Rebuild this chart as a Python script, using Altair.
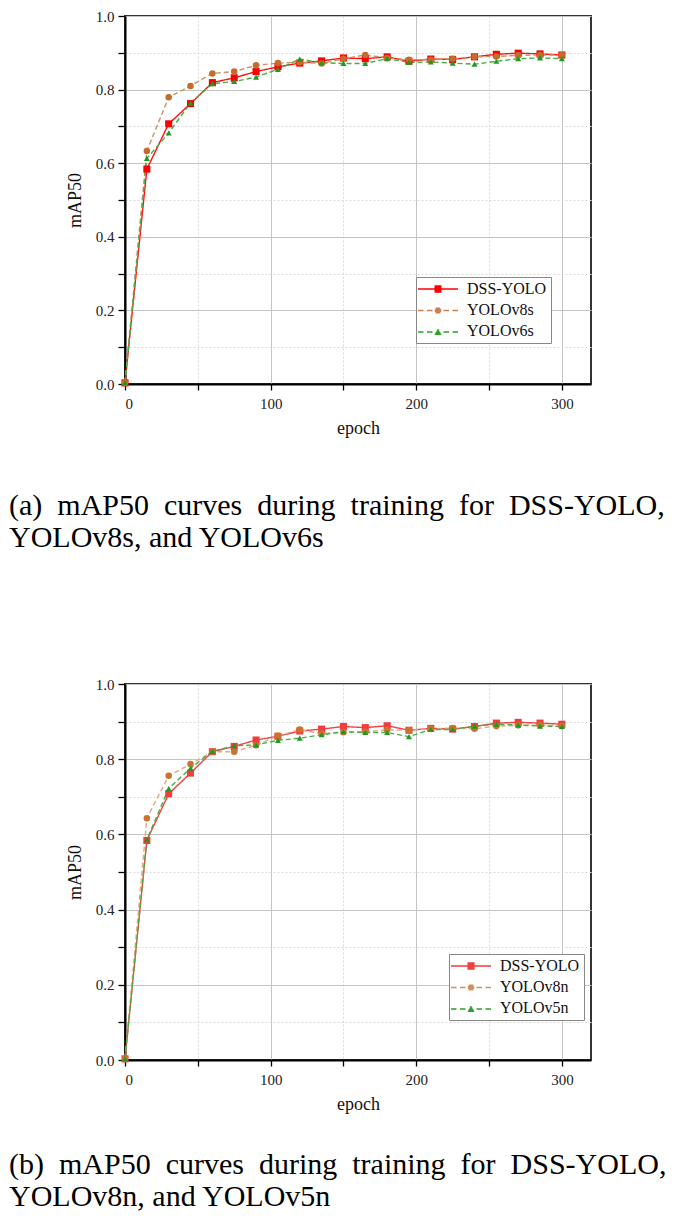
import altair as alt
import pandas as pd

# ---------------- data ----------------
epochs = [0, 15, 30, 45, 60, 75, 90, 105, 120, 135, 150, 165, 180, 195, 210, 225, 240, 255, 270, 285, 300]

series_a = ["DSS-YOLO", "YOLOv8s", "YOLOv6s"]
dss_a = [0.003, 0.584, 0.707, 0.762, 0.819, 0.832, 0.849, 0.862, 0.872, 0.878, 0.886,
         0.884, 0.889, 0.877, 0.883, 0.882, 0.889, 0.896, 0.899, 0.897, 0.894]
yolov8s = [0.003, 0.633, 0.779, 0.810, 0.844, 0.849, 0.866, 0.872, 0.874, 0.871, 0.884,
           0.894, 0.886, 0.881, 0.881, 0.884, 0.889, 0.890, 0.893, 0.894, 0.894]
yolov6s = [0.003, 0.613, 0.682, 0.764, 0.816, 0.822, 0.834, 0.855, 0.883, 0.873, 0.871,
           0.871, 0.884, 0.874, 0.875, 0.872, 0.869, 0.877, 0.884, 0.886, 0.884]

series_b = ["DSS-YOLO", "YOLOv8n", "YOLOv5n"]
dss_b = [0.003, 0.584, 0.708, 0.763, 0.820, 0.834, 0.851, 0.861, 0.875, 0.880, 0.887,
         0.884, 0.889, 0.877, 0.882, 0.880, 0.887, 0.896, 0.898, 0.896, 0.893]
yolov8n = [0.003, 0.643, 0.756, 0.787, 0.820, 0.820, 0.837, 0.862, 0.879, 0.868, 0.872,
           0.873, 0.878, 0.877, 0.881, 0.883, 0.881, 0.888, 0.890, 0.891, 0.888]
yolov5n = [0.003, 0.586, 0.722, 0.776, 0.821, 0.836, 0.838, 0.850, 0.856, 0.865, 0.873,
           0.871, 0.871, 0.860, 0.879, 0.879, 0.888, 0.893, 0.891, 0.888, 0.887]

x_ticks = [0, 50, 100, 150, 200, 250, 300]
y_ticks = [0.0, 0.1, 0.2, 0.3, 0.4, 0.5, 0.6, 0.7, 0.8, 0.9, 1.0]

NB = " \u00a0"  # widened word gap, imitating the justified first caption line
caption_a = [NB.join(["(a)", "mAP50", "curves", "during", "training", "for", "DSS-YOLO,"]),
             "YOLOv8s, and YOLOv6s"]
caption_b = [NB.join(["(b)", "mAP50", "curves", "during", "training", "for", "DSS-YOLO,"]),
             "YOLOv8n, and YOLOv5n"]

# ---------------- styles ----------------
FONT = "Liberation Serif"
line_colors_a = ["#ff1010", "#d09060", "#44b044"]
marker_colors_a = ["#ff0000", "#c46c2c", "#1f991f"]
line_colors_b = ["#f44040", "#deaa80", "#44b044"]
marker_colors_b = ["#f43c3c", "#c8742e", "#1f991f"]
legend_colors_a = ["#ff0000", "#c88050", "#2ca02c"]
legend_colors_b = ["#f43c3c", "#d09060", "#2ca02c"]
dashes = [[1, 0], [5, 3], [5, 3]]
shapes = ["square", "circle", "triangle-up"]
sizes = [50, 36, 40]

SOLID = "M-4,0L4,0"
DASHED = "M-4,0L-2.9,0M-2.2,0L-1.1,0M1.1,0L2.2,0M2.9,0L4,0"
SQUARE = ("M-0.7,-0.6L0.7,-0.6M-0.7,-0.3L0.7,-0.3M-0.7,0L0.7,0"
          "M-0.7,0.3L0.7,0.3M-0.7,0.6L0.7,0.6")
CIRCLE = ("M-0.47,-0.45L0.47,-0.45M-0.63,-0.15L0.63,-0.15"
          "M-0.63,0.15L0.63,0.15M-0.47,0.45L0.47,0.45")
TRIANGLE = ("M-0.14,-0.45L0.14,-0.45M-0.31,-0.15L0.31,-0.15"
            "M-0.48,0.15L0.48,0.15M-0.64,0.45L0.64,0.45")
legend_paths = [SOLID + SQUARE, DASHED + CIRCLE, DASHED + TRIANGLE]
ROW_STEP = 21.5

LEGEND_COMMON = dict(
    title=None, orient="none", symbolSize=100, symbolStrokeWidth=1.5,
    symbolOffset=10, labelOffset=21, labelFont=FONT, labelFontSize=16,
    labelColor="#111", padding=4, rowPadding=5,
)


def make_panel(names, values, caption, line_colors, marker_colors, legend_colors,
               legend_x, legend_y, title_offset, plot_height):
    rows = []
    for name, vals in zip(names, values):
        for e, v in zip(epochs, vals):
            rows.append({"epoch": e, "mAP50": v, "series": name})
    df = pd.DataFrame(rows)

    x_axis = alt.Axis(
        values=x_ticks, title="epoch",
        labelExpr="datum.value % 100 == 0 ? datum.label : ''",
        tickSize=6, labelPadding=6, titlePadding=8,
        gridDash={"condition": {"test": "datum.value % 100 != 0", "value": [2, 2]}, "value": []},
        gridColor={"condition": {"test": "datum.value % 100 != 0", "value": "#dadada"}, "value": "#c4c4c4"},
    )
    y_axis = alt.Axis(
        values=y_ticks, title="mAP50",
        labelExpr="round(datum.value * 10) % 2 == 0 ? format(datum.value, '.1f') : ''",
        tickSize=7, labelPadding=4, titlePadding=11,
        gridDash={"condition": {"test": "round(datum.value * 10) % 2 == 1", "value": [2, 2]}, "value": []},
        gridColor={"condition": {"test": "round(datum.value * 10) % 2 == 1", "value": "#dadada"}, "value": "#c4c4c4"},
    )

    base = alt.Chart(df).encode(
        x=alt.X("epoch:Q", scale=alt.Scale(domain=[0, 320], nice=False, zero=False), axis=x_axis),
        y=alt.Y("mAP50:Q", scale=alt.Scale(domain=[0, 1], nice=False), axis=y_axis),
    )

    lines = base.mark_line(strokeWidth=1.4).encode(
        stroke=alt.Stroke("series:N", scale=alt.Scale(domain=names, range=line_colors), legend=None),
        strokeDash=alt.StrokeDash("series:N", scale=alt.Scale(domain=names, range=dashes), legend=None),
    )
    points = base.mark_point(filled=True, opacity=1).encode(
        fill=alt.Fill("series:N", scale=alt.Scale(domain=names, range=marker_colors), legend=None),
        shape=alt.Shape("series:N", scale=alt.Scale(domain=names, range=shapes), legend=None),
        size=alt.Size("series:N", scale=alt.Scale(domain=names, range=sizes), legend=None),
    )

    # legend frame with the labels (its own symbols hidden)
    frame_leg = alt.Legend(
        legendX=legend_x, legendY=legend_y, symbolType=SOLID, symbolOpacity=0,
        strokeColor="#888888", fillColor="white", zindex=0, **LEGEND_COMMON,
    )
    layers = [lines, points,
              base.mark_point(filled=False, opacity=0).encode(
                  color=alt.Color("series:N", scale=alt.Scale(domain=names, range=legend_colors),
                                  legend=frame_leg))]

    # one single-entry legend per series for its line + marker symbol
    for i, (name, col, path) in enumerate(zip(names, legend_colors, legend_paths)):
        sym_leg = alt.Legend(
            legendX=legend_x, legendY=legend_y + i * ROW_STEP, symbolType=path,
            symbolOpacity=1, labelExpr="'\u00a0'", zindex=1, **LEGEND_COMMON,
        )
        layers.append(
            base.transform_filter(alt.datum.series == name)
            .mark_point(filled=False, opacity=0)
            .encode(color=alt.Color("series:N", scale=alt.Scale(domain=[name], range=[col]),
                                    legend=sym_leg))
        )

    return alt.layer(*layers).resolve_scale(color="independent").properties(
        width=466, height=plot_height,
        title=alt.TitleParams(
            text=caption, orient="bottom", anchor="start", frame="group", dx=-116,
            offset=title_offset, font=FONT, fontSize=30, fontWeight="normal",
            lineHeight=32, color="black",
        ),
    )


panel_a = make_panel(series_a, [dss_a, yolov8s, yolov6s], caption_a,
                     line_colors_a, marker_colors_a, legend_colors_a, 291, 261, 54, 368)
panel_b = make_panel(series_b, [dss_b, yolov8n, yolov5n], caption_b,
                     line_colors_b, marker_colors_b, legend_colors_b, 324, 270, 37, 376)

chart = alt.vconcat(panel_a, panel_b, spacing=122).resolve_scale(
    stroke="independent", fill="independent", color="independent",
    shape="independent", size="independent", strokeDash="independent",
).properties(padding=0).configure_view(
    stroke="#333333", strokeWidth=2
).configure_axis(
    domainColor="black", domainWidth=2, tickColor="black", tickWidth=1.3,
    labelFont=FONT, labelFontSize=15, labelColor="#222",
    titleFont=FONT, titleFontSize=18, titleFontWeight="normal", titleColor="#111",
    gridWidth=1,
)

chart.save("out.html", embed_options={"renderer": "svg", "actions": False})
